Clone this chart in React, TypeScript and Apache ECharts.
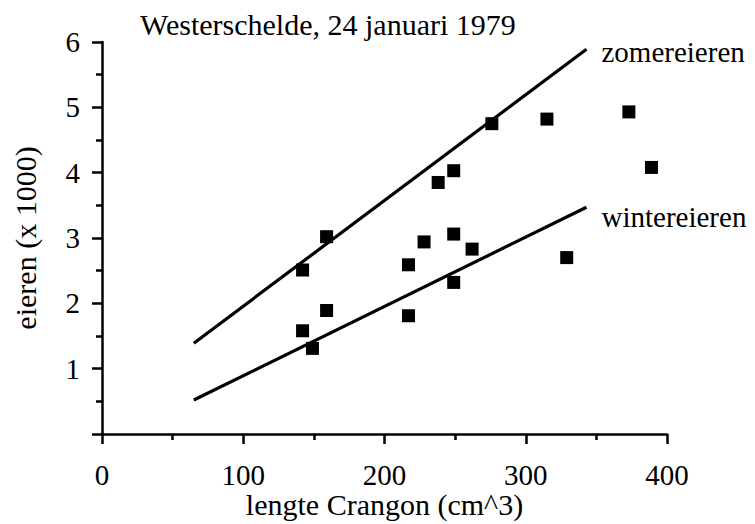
import React, { useEffect, useRef } from "react";
import * as echarts from "echarts";

const titleText = "Westerschelde, 24 januari 1979";
const xName = "lengte Crangon (cm^3)";
const yName = "eieren (x 1000)";

const lengthValues = [142, 142, 149, 159, 159, 217, 217, 228, 238, 249, 249, 249, 262, 276, 315, 329, 373, 389];
const eggValues = [2.51, 1.58, 1.31, 3.02, 1.89, 2.59, 1.81, 2.94, 3.85, 4.03, 3.06, 2.32, 2.83, 4.75, 4.82, 2.70, 4.93, 4.08];

const zomerName = "zomereieren";
const zomerX = [65, 343];
const zomerY = [1.39, 5.89];

const winterName = "wintereieren";
const winterX = [65, 343];
const winterY = [0.52, 3.47];

const FONT = "'Liberation Serif', 'Times New Roman', serif";

export default function App() {
  const ref = useRef<HTMLDivElement>(null);
  useEffect(() => {
    if (!ref.current) return;
    const chart = echarts.init(ref.current, null, { renderer: "svg" });
    const points = lengthValues.map((x, i) => [x, eggValues[i]]);
    const lineSeries = (name: string, xs: number[], ys: number[], dy: number) => ({
      name,
      type: "line",
      data: xs.map((x, i) => [x, ys[i]]),
      symbol: "none",
      lineStyle: { color: "#000", width: 3.2 },
      endLabel: {
        show: true,
        formatter: name,
        distance: 15,
        offset: [0, dy],
        color: "#000",
        fontFamily: FONT,
        fontSize: 29,
      },
      z: 3,
    });
    chart.setOption({
      animation: false,
      backgroundColor: "#fff",
      textStyle: { fontFamily: FONT, color: "#000" },
      title: {
        text: titleText,
        left: 135,
        top: 4,
        textStyle: { fontFamily: FONT, fontSize: 30, fontWeight: "normal", color: "#000" },
      },
      grid: { left: 102, right: 88, top: 42, bottom: 90, containLabel: false, outerBoundsMode: "none" },
      xAxis: {
        type: "value",
        min: 0,
        max: 400,
        interval: 100,
        name: xName,
        nameLocation: "middle",
        nameGap: 55,
        nameMoveOverlap: false,
        nameTextStyle: { fontFamily: FONT, fontSize: 30, color: "#000" },
        axisLine: { show: true, onZero: false, lineStyle: { color: "#000", width: 2.5 } },
        axisTick: { show: true, inside: false, length: 10, lineStyle: { color: "#000", width: 2.5 } },
        minorTick: { show: true, splitNumber: 2, length: 6, lineStyle: { color: "#000", width: 2.5 } },
        splitLine: { show: false },
        axisLabel: { fontFamily: FONT, fontSize: 29, color: "#000", margin: 26 },
      },
      yAxis: {
        type: "value",
        min: 0,
        max: 6,
        interval: 1,
        name: yName,
        nameLocation: "middle",
        nameGap: 62,
        nameMoveOverlap: false,
        nameTextStyle: { fontFamily: FONT, fontSize: 30, color: "#000" },
        axisLine: { show: true, onZero: false, lineStyle: { color: "#000", width: 2.5 } },
        axisTick: { show: true, inside: false, length: 10, lineStyle: { color: "#000", width: 2.5 } },
        minorTick: { show: true, splitNumber: 2, length: 6, lineStyle: { color: "#000", width: 2.5 } },
        splitLine: { show: false },
        axisLabel: {
          fontFamily: FONT,
          fontSize: 29,
          color: "#000",
          margin: 22,
          formatter: (v: number) => (v === 0 ? "" : String(v)),
        },
      },
      series: [
        {
          type: "scatter",
          data: points,
          symbol: "rect",
          symbolSize: 13,
          itemStyle: { color: "#000", opacity: 1 },
          z: 4,
        },
        lineSeries(zomerName, zomerX, zomerY, 3),
        lineSeries(winterName, winterX, winterY, 10),
      ],
    });
    return () => chart.dispose();
  }, []);
  return <div ref={ref} style={{ width: 755, height: 524, position: "absolute", left: 0, top: 0 }} />;
}
